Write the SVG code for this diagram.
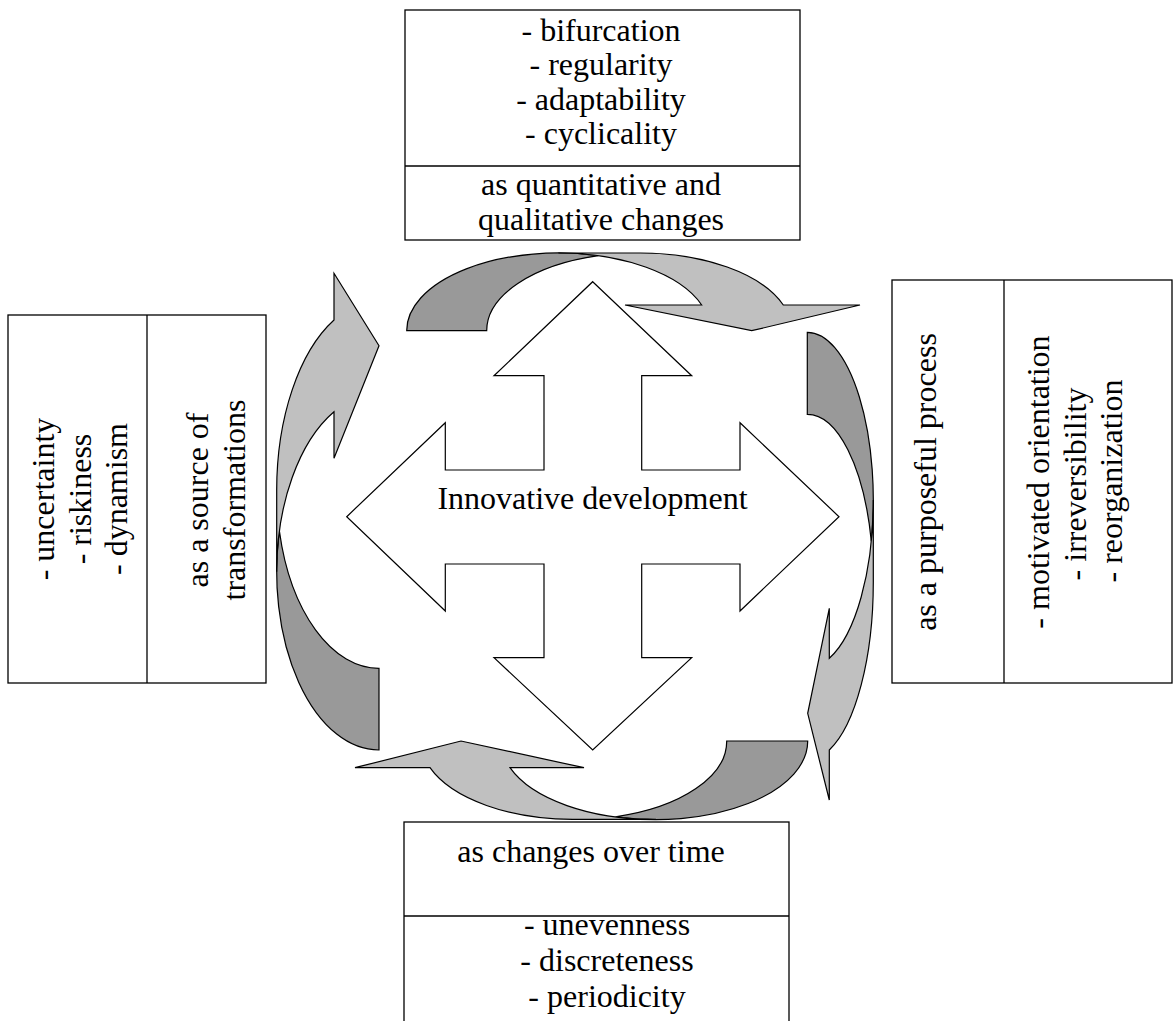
<svg xmlns="http://www.w3.org/2000/svg" width="1173" height="1021" viewBox="0 0 1173 1021">
<style>
.box{fill:#fff;stroke:#000;stroke-width:1.3}
.div{stroke:#000;stroke-width:1.3;fill:none}
.t{font-family:"Liberation Serif","Times New Roman",serif;font-size:32px;fill:#000;text-anchor:middle}
.dark{fill:#999;stroke:#000;stroke-width:1.2;stroke-linejoin:miter}
.light{fill:#c0c0c0;stroke:#000;stroke-width:1.2;stroke-linejoin:miter}
.cross{fill:#fff;stroke:#000;stroke-width:1.2}
</style>
<rect width="1173" height="1021" fill="#fff"/>

<g id="connectors">
  <g id="arrow-top">
    <path class="dark" d="M406.7 330.7 A151.7 77.7 0 0 1 598.4 255.7 A151.7 77.7 0 0 0 486.7 330.7 Z"/>
    <path class="light" d="M558.4 253 L638.4 253 A151.7 77.7 0 0 1 783.3 305 L860 305 L751.7 330.7 L625 305 L701.7 305 A151.7 77.7 0 0 0 558.4 253 Z"/>
  </g>
  <g id="arrow-right">
    <path class="dark" d="M807.3 332.3 A66 167.8 0 0 1 871.3 541.1 A66 167.8 0 0 0 807.3 414.3 Z"/>
    <path class="light" d="M873.3 500.1 L873.3 582.1 A66 178 0 0 1 829.3 750 L829.3 800 L807.7 713.3 L829.3 608.3 L829.3 658.3 A66 167.8 0 0 0 873.3 500.1 Z"/>
  </g>
  <g id="arrow-bottom">
    <path class="dark" d="M807.7 741 A151.7 78.3 0 0 1 615.5 816.8 A151.7 78.3 0 0 0 726.7 741 Z"/>
    <path class="light" d="M656 819.3 L575 819.3 A151.7 78.3 0 0 1 430 767.7 L355 767.7 L461 741 L584 767.7 L510 767.7 A151.7 78.3 0 0 0 656 819.3 Z"/>
  </g>
  <g id="arrow-left">
    <path class="dark" d="M379 750 A102.3 178.2 0 0 1 279.4 531 A102.3 178.2 0 0 0 379 668.3 Z"/>
    <path class="light" d="M276.7 571.8 L276.7 490.1 A102.3 189.4 0 0 1 334 320 L334 273.3 L379 345.7 L334 458.3 L334 411.7 A102.3 178.2 0 0 0 276.7 571.8 Z"/>
  </g>
</g>

<g id="center">
  <polygon class="cross" points="592.7,281.7 691.7,375.7 641.7,375.7 641.7,470 740,470 740,422.7 839,516.7 740,611 740,564 641.7,564 641.7,657.7 691.7,657.7 592.7,750 494,657.7 544,657.7 544,564 445.3,564 445.3,611 346.7,516.7 445.3,422.7 445.3,470 544,470 544,375.7 494,375.7"/>
  <text class="t" x="592.5" y="509">Innovative development</text>
</g>

<g id="box-top">
  <rect class="box" x="405" y="10" width="395" height="230"/>
  <line class="div" x1="405" y1="166" x2="800" y2="166"/>
  <text class="t" x="601" y="40.5">- bifurcation</text>
  <text class="t" x="601" y="75">- regularity</text>
  <text class="t" x="601" y="109.5">- adaptability</text>
  <text class="t" x="601" y="144">- cyclicality</text>
  <text class="t" x="601" y="195">as quantitative and</text>
  <text class="t" x="601" y="230">qualitative changes</text>
</g>

<g id="box-left">
  <rect class="box" x="8" y="315" width="258" height="368"/>
  <line class="div" x1="147" y1="315" x2="147" y2="683"/>
  <text class="t" transform="translate(54 499) rotate(-90)">- uncertainty</text>
  <text class="t" transform="translate(90.5 499) rotate(-90)">- riskiness</text>
  <text class="t" transform="translate(127 499) rotate(-90)">- dynamism</text>
  <text class="t" transform="translate(208 500) rotate(-90)">as a source of</text>
  <text class="t" transform="translate(245 500) rotate(-90)">transformations</text>
</g>

<g id="box-right">
  <rect class="box" x="892" y="280" width="280" height="403"/>
  <line class="div" x1="1004" y1="280" x2="1004" y2="683"/>
  <text class="t" transform="translate(936 482) rotate(-90)">as a purposeful process</text>
  <text class="t" transform="translate(1049 482) rotate(-90)">- motivated orientation</text>
  <text class="t" transform="translate(1086 484) rotate(-90)">- irreversibility</text>
  <text class="t" transform="translate(1122 481) rotate(-90)">- reorganization</text>
</g>

<g id="box-bottom">
  <rect class="box" x="404" y="822" width="385" height="220"/>
  <line class="div" x1="404" y1="916" x2="789" y2="916"/>
  <text class="t" x="591" y="862">as changes over time</text>
  <text class="t" x="607" y="935">- unevenness</text>
  <text class="t" x="607" y="971">- discreteness</text>
  <text class="t" x="607" y="1007">- periodicity</text>
</g>
</svg>
